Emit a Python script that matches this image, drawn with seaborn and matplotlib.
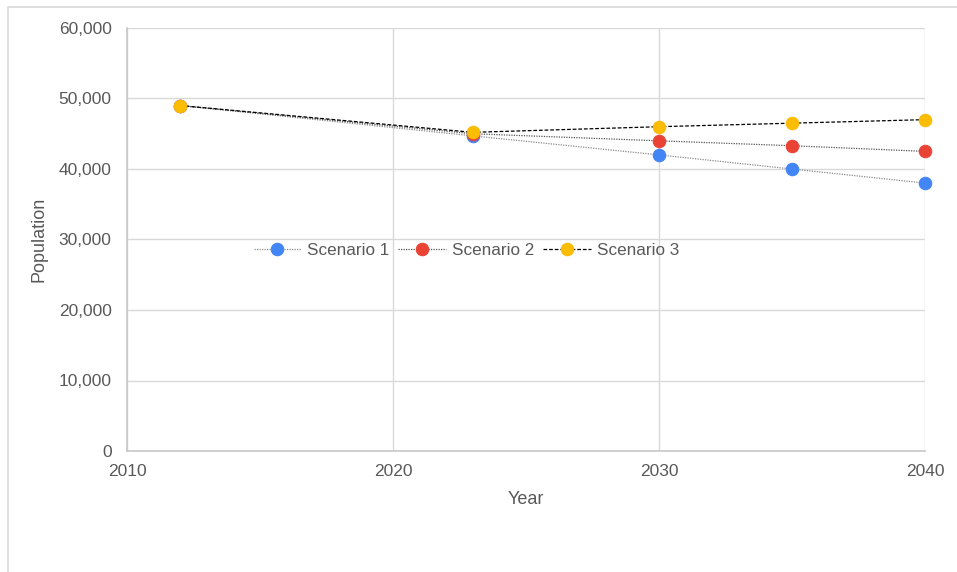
import matplotlib
matplotlib.use("Agg")
import matplotlib.pyplot as plt
import pandas as pd
import seaborn as sns
from matplotlib.patches import Rectangle
from matplotlib.ticker import FuncFormatter

# Data
years = [2012, 2023, 2030, 2035, 2040]
scenario_1 = [49000, 44700, 42000, 40000, 38000]
scenario_2 = [49000, 45000, 44000, 43300, 42500]
scenario_3 = [49000, 45200, 46000, 46500, 47000]
series_names = ["Scenario 1", "Scenario 2", "Scenario 3"]
colors = ["#4285F4", "#EA4335", "#FBBC04"]
line_colors = ["#8a8a8a", "#555555", "#000000"]
line_styles = [(0, (1, 1)), (0, (1, 1)), (0, (3, 1.5))]

df = pd.DataFrame({
    "Year": years * 3,
    "Population": scenario_1 + scenario_2 + scenario_3,
    "Scenario": sum([[n] * len(years) for n in series_names], []),
})

sns.set_theme(style="white")
plt.rcParams["font.family"] = ["Liberation Sans", "DejaVu Sans"]

fig = plt.figure(figsize=(9.57, 5.72), dpi=100)
ax = fig.add_axes([127 / 957, 1 - 451 / 572, (925 - 127) / 957, (451 - 28) / 572])

# light frame around the whole chart
fig.patches.append(Rectangle((8 / 957, -0.01), 1.0, 1 - 7 / 572 + 0.01, transform=fig.transFigure,
                             fill=False, edgecolor="#d9d9d9", linewidth=1.2))

for name, mc, lc, ls in zip(series_names, colors, line_colors, line_styles):
    sub = df[df["Scenario"] == name]
    sns.lineplot(data=sub, x="Year", y="Population", ax=ax, color=lc, linestyle=ls,
                 linewidth=0.9, marker="o", markersize=9, markerfacecolor=mc,
                 markeredgecolor=mc, label=name, clip_on=False)

ax.set_xlim(2010, 2040)
ax.set_ylim(0, 60000)
ax.set_xticks([2010, 2020, 2030, 2040])
ax.set_yticks(range(0, 60001, 10000))
ax.yaxis.set_major_formatter(FuncFormatter(lambda v, p: f"{int(v):,}"))
ax.grid(True, color="#d9d9d9", linewidth=1)
ax.set_axisbelow(True)
for side in ["top", "right"]:
    ax.spines[side].set_visible(False)
for side in ["left", "bottom"]:
    ax.spines[side].set_color("#c8c8c8")
    ax.spines[side].set_linewidth(1.2)
ax.tick_params(colors="#595959", labelsize=12.5, length=0)
ax.tick_params(axis="y", pad=11)
ax.tick_params(axis="x", pad=9)
ax.set_xlabel("Year", fontsize=13, color="#595959", labelpad=9)
ax.set_ylabel("Population", fontsize=13, color="#595959", labelpad=8)

leg = ax.legend(loc="center", bbox_to_anchor=(0.425, 0.475), ncol=3, frameon=False,
                fontsize=12.3, handlelength=2.8, handletextpad=0.35, columnspacing=0.5)
for t in leg.get_texts():
    t.set_color("#595959")

fig.savefig("out.png", dpi=100)
